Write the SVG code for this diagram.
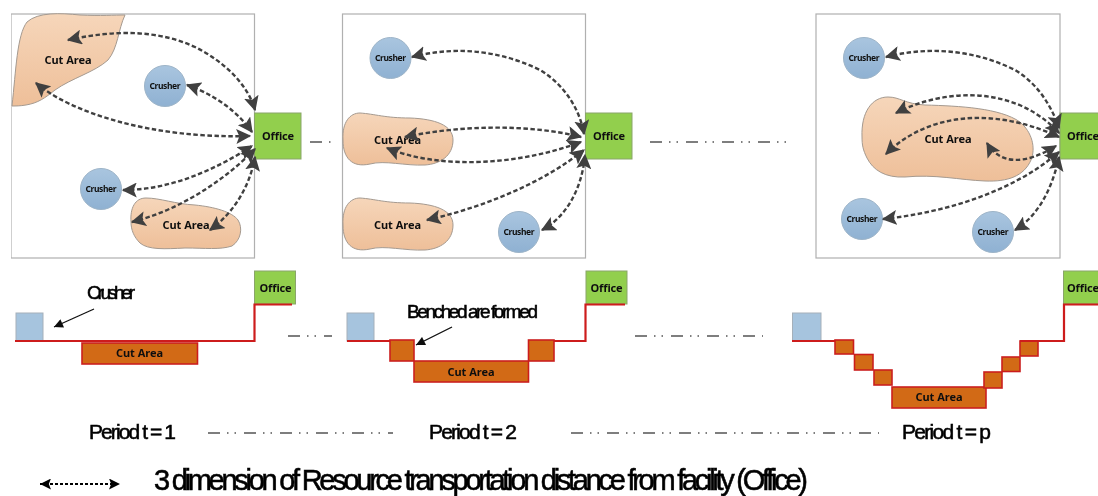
<svg xmlns="http://www.w3.org/2000/svg" width="1098" height="496" viewBox="0 0 1098 496">
<style>
.panel{fill:#fff;stroke:#b0b0b0;stroke-width:1.2}
.cut{fill:url(#cutGrad);stroke:#a59a90;stroke-width:1}
.crusher{fill:url(#crGrad);stroke:#9db4c8;stroke-width:1}
.office{fill:#92cf4e;stroke:#8aa56a;stroke-width:1}
.sq{fill:#a6c4de;stroke:#a5b0ba;stroke-width:1}
.pit{fill:#d26a16;stroke:#cb1f1f;stroke-width:1.6}
.red{fill:none;stroke:#cd1c1c;stroke-width:2.2}
.con{fill:none;stroke:#404040;stroke-width:2.4;stroke-dasharray:4.5 2.5;marker-start:url(#h);marker-end:url(#h)}
.gap{fill:none;stroke:#555;stroke-width:1.6;stroke-dasharray:12 7 1.5 6 1.5 8}
.ptr{fill:none;stroke:#111;stroke-width:1.3;marker-end:url(#p)}
text{font-family:"Noto Sans","Liberation Sans",sans-serif;fill:#111;text-anchor:middle}
.ca{font-size:11px;font-weight:700}
.cr{font-size:8.5px;font-weight:700}
.of{font-size:11px;font-weight:700}
.tt{font-family:"Liberation Sans",Arial,sans-serif;fill:#000;stroke:#000;stroke-width:.55;text-anchor:start}
</style>
<defs>
<linearGradient id="cutGrad" x1="0" y1="0" x2="0" y2="1"><stop offset="0" stop-color="#f6d6ba"/><stop offset="1" stop-color="#eebf99"/></linearGradient>
<linearGradient id="crGrad" x1="0" y1="0" x2="0" y2="1"><stop offset="0" stop-color="#a9c5df"/><stop offset="1" stop-color="#8fb1d2"/></linearGradient>
<filter id="soft" x="0" y="0" width="100%" height="100%"><feGaussianBlur stdDeviation="0.4"/></filter>
<marker id="h" viewBox="0 0 12 12" refX="11" refY="6" markerWidth="15" markerHeight="15" markerUnits="userSpaceOnUse" orient="auto-start-reverse"><path d="M0 0L12 6L0 12L2.5 6Z" fill="#404040"/></marker>
<marker id="p" viewBox="0 0 10 10" refX="10" refY="5" markerWidth="11" markerHeight="9" markerUnits="userSpaceOnUse" orient="auto"><path d="M0 0L10 5L0 10Z" fill="#111"/></marker>
<marker id="l" viewBox="0 0 10 10" refX="10" refY="5" markerWidth="11" markerHeight="11" markerUnits="userSpaceOnUse" orient="auto-start-reverse"><path d="M0 0L10 5L0 10L2 5Z" fill="#000"/></marker>
</defs>
<g filter="url(#soft)">
<g id="panel-1">
<rect class="panel" x="11" y="14" width="243.500" height="244"/>
<path id="cut-1a" class="cut" d="M12 106C16 70 17 35 27 22C38 12 60 13 80 15C100 16 115 15 125 15C118 30 118 48 108 60C95 72 72 78 55 90C45 98 38 103 26 105C20 106 16 106 12 106Z"/>
<path id="cut-1b" class="cut" d="M131 222C130 208 135 198 146 198C160 198 175 204 195 205C215 207 232 212 238 220C243 228 241 240 232 246C220 250 205 248 185 248C165 249 148 250 140 243C134 237 131 230 131 222Z"/>
<text class="ca" x="68" y="64" textLength="47">Cut Area</text>
<text class="ca" x="186" y="229" textLength="47">Cut Area</text>
<circle class="crusher" cx="165" cy="86" r="20.500"/><text class="cr" x="165" y="89" textLength="31">Crusher</text>
<circle class="crusher" cx="101" cy="189" r="20.500"/><text class="cr" x="101" y="192" textLength="31">Crusher</text>
<rect class="office" x="254.500" y="113" width="46.500" height="46"/><text class="of" x="278" y="140" textLength="32">Office</text>
</g>

<g id="panel-2">
<rect class="panel" x="342.500" y="14" width="243" height="244"/>
<path id="cut-2a" class="cut" d="M343 140C342 122 350 113 360 113C375 114 385 118 410 118C435 119 453 125 453 140C453 156 440 164 425 165C405 166 385 160 370 164C352 168 343 158 343 140Z"/>
<path id="cut-2b" class="cut" d="M343 225C342 207 350 198 360 198C375 199 385 203 410 203C435 204 453 210 453 225C453 241 440 249 425 250C405 251 385 245 370 249C352 253 343 243 343 225Z"/>
<text class="ca" x="397.500" y="144" textLength="47">Cut Area</text>
<text class="ca" x="397.500" y="229" textLength="47">Cut Area</text>
<circle class="crusher" cx="390.500" cy="58" r="20.500"/><text class="cr" x="390.500" y="61" textLength="31">Crusher</text>
<circle class="crusher" cx="519" cy="232" r="20.500"/><text class="cr" x="519" y="235" textLength="31">Crusher</text>
<rect class="office" x="585.500" y="113" width="46.500" height="46"/><text class="of" x="609" y="140" textLength="32">Office</text>
</g>

<g id="panel-3">
<rect class="panel" x="816" y="14" width="244" height="244"/>
<path id="cut-3" class="cut" d="M862 137C861 112 872 97 888 97C900 97 905 104 925 105C960 106 1000 108 1020 122C1032 132 1036 148 1031 160C1024 176 1008 182 985 181C960 180 935 174 905 177C885 178 873 170 867 158C863 150 862 145 862 137Z"/>
<text class="ca" x="948" y="143" textLength="47">Cut Area</text>
<circle class="crusher" cx="864" cy="58" r="20.500"/><text class="cr" x="864" y="61" textLength="31">Crusher</text>
<circle class="crusher" cx="862" cy="219" r="20.500"/><text class="cr" x="862" y="222" textLength="31">Crusher</text>
<circle class="crusher" cx="993" cy="232" r="20.500"/><text class="cr" x="993" y="235" textLength="31">Crusher</text>
<rect class="office" x="1060" y="113" width="46" height="46"/><text class="of" x="1083" y="140" textLength="32">Office</text>
</g>

<g id="connectors">
<path class="con" d="M68 40C100 33 150 26 195 47C225 62 248 85 255 110"/>
<path class="con" d="M187 85C210 93 235 108 252 132"/>
<path class="con" d="M36 83C70 112 150 139 250 136"/>
<path class="con" d="M123 190C170 190 215 170 252 146"/>
<path class="con" d="M132 222C180 210 225 180 255 149"/>
<path class="con" d="M210 230C235 212 250 185 255 157"/>
<path class="con" d="M412 57C450 47 495 48 540 70C565 85 580 110 584 134"/>
<path class="con" d="M405 137C460 125 530 124 581 137"/>
<path class="con" d="M387 148C440 170 520 165 581 142"/>
<path class="con" d="M427 220C480 208 540 185 584 150"/>
<path class="con" d="M542 230C565 218 582 190 585 155"/>
<path class="con" d="M886 57C925 47 970 48 1015 70C1040 85 1053 110 1059 128"/>
<path class="con" d="M896 113C945 88 1015 85 1059 133"/>
<path class="con" d="M886 154C925 115 990 105 1059 137"/>
<path class="con" d="M987 143C1000 165 1025 165 1056 146"/>
<path class="con" d="M883 219C950 212 1015 190 1059 152"/>
<path class="con" d="M1015 230C1040 215 1053 185 1059 157"/>
<path class="gap" d="M310 142H332"/>
<path class="gap" d="M650 142H787"/>
<path class="gap" d="M288 336H332"/>
<path class="gap" d="M635 336H763"/>
<path class="gap" d="M208 433H393"/>
<path class="gap" d="M571 433H879"/>
<path class="ptr" d="M94 309L54 327"/>
<path class="ptr" d="M452 327L416 345"/>
<path d="M40 484H120" fill="none" stroke="#000" stroke-width="1.8" stroke-dasharray="3 2" marker-start="url(#l)" marker-end="url(#l)"/>
</g>

<g id="section-1">
<rect class="sq" x="16" y="313" width="27" height="28"/>
<rect class="office" x="254.500" y="271" width="41" height="33"/><text class="of" x="275.500" y="292" textLength="32">Office</text>
<rect class="pit" x="82" y="343" width="115.500" height="21"/><text class="ca" x="139.500" y="357" textLength="47">Cut Area</text>
<path class="red" d="M15 341H254.500V304.500H292"/>
</g>
<g id="section-2">
<rect class="sq" x="347" y="313" width="27" height="28"/>
<rect class="office" x="586" y="271" width="41" height="33"/><text class="of" x="606.500" y="292" textLength="32">Office</text>
<rect class="pit" x="390" y="340" width="24" height="21"/>
<rect class="pit" x="528.500" y="340" width="25.500" height="21"/>
<rect class="pit" x="414" y="361" width="114.500" height="21"/><text class="ca" x="471" y="376" textLength="47">Cut Area</text>
<path class="red" d="M347 341H390M554 341H585.500V304.500H625"/>
</g>
<g id="section-3">
<rect class="sq" x="792.500" y="313" width="28.500" height="28"/>
<rect class="office" x="1063.500" y="271" width="40" height="33"/><text class="of" x="1083" y="292" textLength="32">Office</text>
<rect class="pit" x="835" y="340" width="18.500" height="14"/>
<rect class="pit" x="854.500" y="354.500" width="18.500" height="15.500"/>
<rect class="pit" x="874" y="370" width="18" height="15"/>
<rect class="pit" x="892" y="387" width="94" height="21"/><text class="ca" x="939" y="401" textLength="47">Cut Area</text>
<rect class="pit" x="984" y="372" width="18" height="16"/>
<rect class="pit" x="1002" y="357" width="18" height="14.500"/>
<rect class="pit" x="1020" y="341" width="18" height="15"/>
<path class="red" d="M792 341H835M1020 341H1064V304.500H1098"/>
</g>

<g id="labels">
<text class="tt" x="87" y="299" font-size="19" textLength="48" lengthAdjust="spacing">Crusher</text>
<text class="tt" x="407" y="318" font-size="19" textLength="131" lengthAdjust="spacing">Benched are formed</text>
<text class="tt" x="89" y="439" font-size="21" textLength="87" lengthAdjust="spacing">Period t = 1</text>
<text class="tt" x="429" y="439" font-size="21" textLength="88" lengthAdjust="spacing">Period t = 2</text>
<text class="tt" x="902" y="439" font-size="21" textLength="89" lengthAdjust="spacing">Period t = p</text>
<text class="tt" x="154" y="490" font-size="29" textLength="654" lengthAdjust="spacing">3 dimension of Resource transportation distance from facility (Office)</text>
</g>
</g>
</svg>
